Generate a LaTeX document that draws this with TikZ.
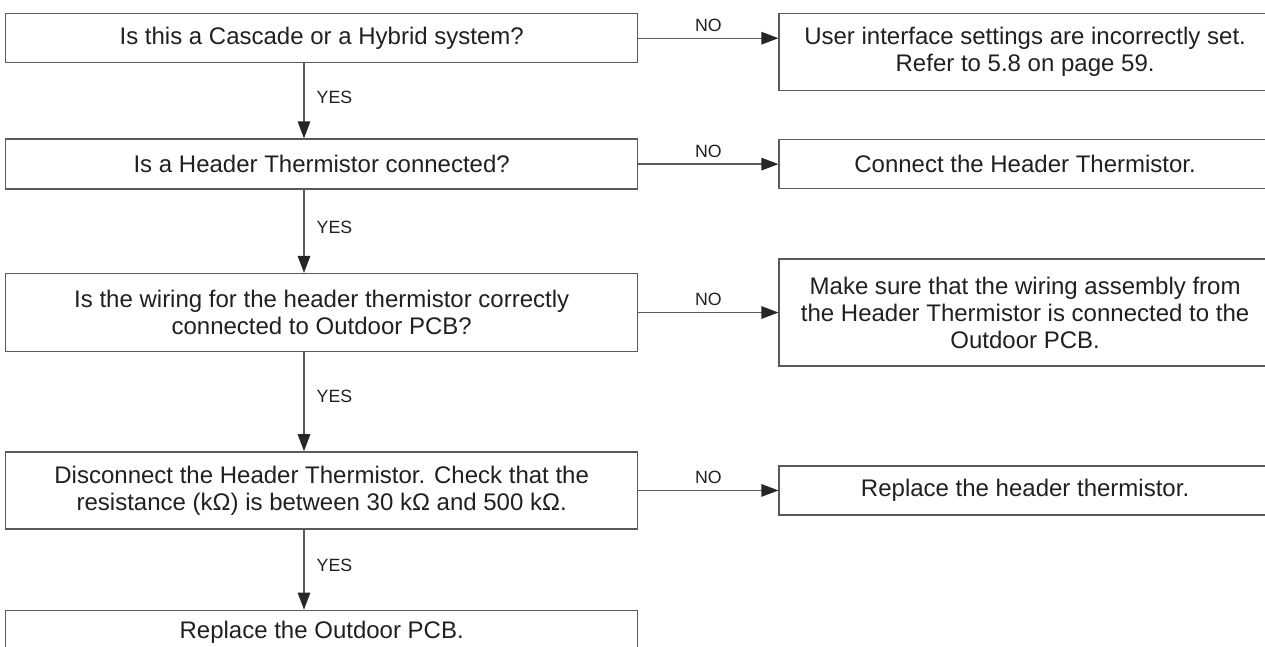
\documentclass[tikz,border=0pt]{standalone}
\usepackage{fontspec}
\setmainfont{Liberation Sans}
\usetikzlibrary{positioning, arrows.meta}
\definecolor{linegray}{HTML}{5A5A5A}
\definecolor{textdark}{HTML}{231F20}

\begin{document}
\begin{tikzpicture}[
          % 1. Cajas base (preguntas a la izquierda, acciones a la derecha)
          box/.style={
              rectangle,
              draw=linegray,
              line width=0.8pt,
              align=center,
              text=textdark,
              font=\fontsize{13.66}{15.4}\selectfont,
              inner sep=4pt
          },
          question/.style={box, minimum width=12.64cm},
          action/.style={box, minimum width=9.84cm},
          % 2. Flechas y etiquetas
          arrow/.style={draw=linegray, line width=0.8pt,
              -{Triangle[length=0.34cm, width=0.25cm, color=black!85, fill=black!85]}},
          yeslabel/.style={font=\fontsize{10.1}{12}\selectfont, text=textdark, anchor=west, inner sep=0pt, xshift=0.24cm},
          nolabel/.style={font=\fontsize{10.1}{12}\selectfont, text=textdark}
      ]

      % marco de la figura (25.3cm x 12.92cm)
      \useasboundingbox (0,0) rectangle (25.3,-12.92);
      \clip (0,0) rectangle (25.3,-12.92);

      % columna de las flechas YES
      \coordinate (ax) at (6.08,0);

      % === COLUMNA IZQUIERDA (preguntas) ===

      % Pregunta 1
      \node[question, anchor=north west, minimum height=0.98cm] (q1) at (0.1,-0.26) {Is this a Cascade or a Hybrid system?};

      % Pregunta 2
      \node[question, minimum height=1.0cm, below=1.5cm of q1] (q2) {Is a Header Thermistor connected?};

      % Pregunta 3
      \node[question, minimum height=1.56cm, below=1.66cm of q2] (q3) {Is the wiring for the header thermistor correctly\\connected to Outdoor PCB?};

      % Pregunta 4
      \node[question, minimum height=1.54cm, below=1.98cm of q3] (q4) {Disconnect the Header Thermistor. Check that the\\resistance (kΩ) is between 30 kΩ and 500 kΩ.};

      % Resultado final
      \node[question, minimum height=0.86cm, below=1.6cm of q4] (q5) {Replace the Outdoor PCB.};

      % === COLUMNA DERECHA (acciones) ===

      \node[action, minimum height=1.54cm, right=2.8cm of q1.north east, anchor=north west] (r1) {User interface settings are incorrectly set.\\Refer to 5.8 on page 59.};

      \node[action, minimum height=0.98cm, right=2.8cm of q2] (r2) {Connect the Header Thermistor.};

      \node[action, minimum height=2.14cm, right=2.8cm of q3] (r3) {Make sure that the wiring assembly from\\the Header Thermistor is connected to the\\Outdoor PCB.};

      \node[action, minimum height=0.98cm, right=2.8cm of q4] (r4) {Replace the header thermistor.};

      % === FLECHAS YES (hacia abajo) ===
      \draw[arrow] (q1.south -| ax) -- node[yeslabel, pos=0.45] {YES} (q2.north -| ax);
      \draw[arrow] (q2.south -| ax) -- node[yeslabel, pos=0.45] {YES} (q3.north -| ax);
      \draw[arrow] (q3.south -| ax) -- node[yeslabel, pos=0.45] {YES} (q4.north -| ax);
      \draw[arrow] (q4.south -| ax) -- node[yeslabel, pos=0.45] {YES} (q5.north -| ax);

      % === FLECHAS NO (hacia la derecha) ===
      \draw[arrow] (q1.east) -- node[nolabel, above] {NO} (q1.east -| r1.west);
      \draw[arrow] (q2.east) -- node[nolabel, above] {NO} (q2.east -| r2.west);
      \draw[arrow] (q3.east) -- node[nolabel, above] {NO} (q3.east -| r3.west);
      \draw[arrow] (q4.east) -- node[nolabel, above] {NO} (q4.east -| r4.west);

      \end{tikzpicture}
\end{document}
